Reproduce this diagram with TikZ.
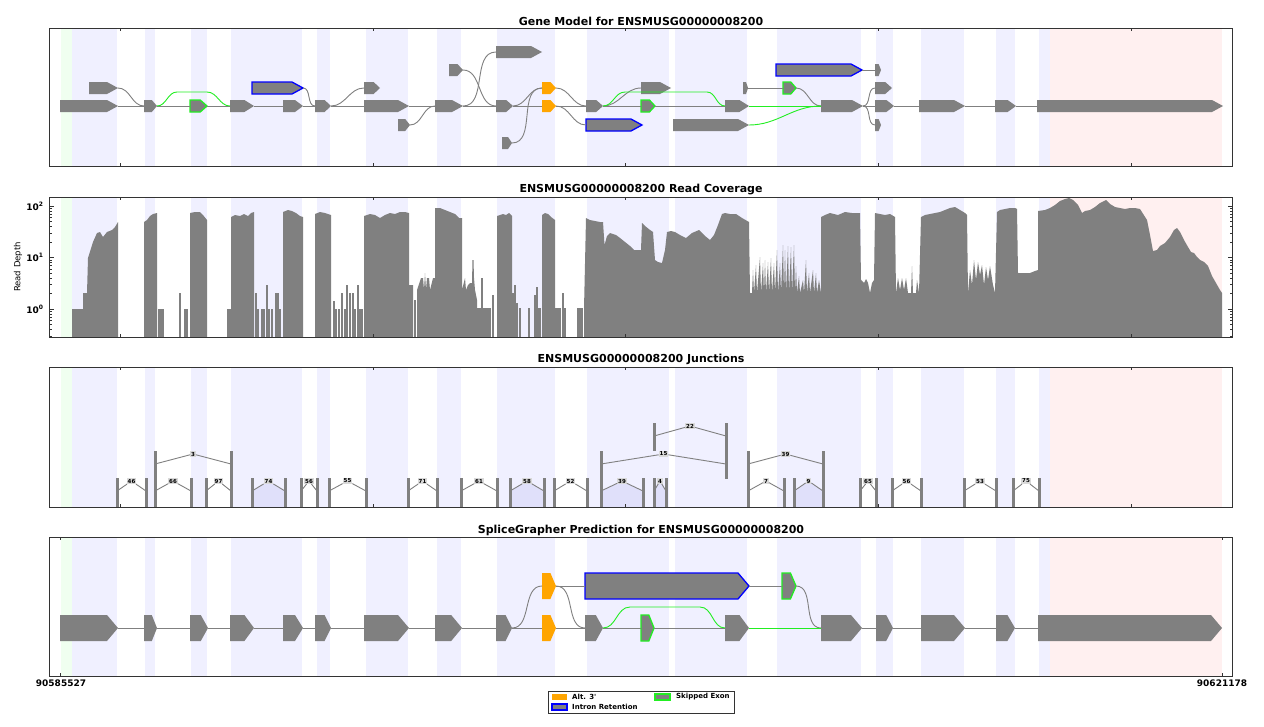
\documentclass[tikz,border=0pt]{standalone}
\usepackage{fontspec}
\setmainfont{DejaVu Sans}
\usetikzlibrary{calc}

\definecolor{exongray}{HTML}{808080}
\definecolor{bandblue}{HTML}{F0F0FF}
\definecolor{bandgreen}{HTML}{F0FFF0}
\definecolor{bandpink}{HTML}{FFF0F0}
\definecolor{juncfill}{HTML}{E0E0FA}
\definecolor{labgray}{HTML}{D9D9D9}
\definecolor{skipgreen}{HTML}{22EE22}
\definecolor{altorange}{HTML}{FFA500}

% exon: [style] name x1 x2 y, half height in \exh
\newcommand{\exh}{6}
\newcommand{\exon}[5][]{%
  \pgfmathsetmacro{\exw}{#4-#3}%
  \pgfmathsetmacro{\ext}{min(11,0.4*\exw)}%
  \path[exon,#1] (#3,#5-\exh) -- (#4-\ext,#5-\exh) -- (#4,#5)
    -- (#4-\ext,#5+\exh) -- (#3,#5+\exh) -- cycle;
  \coordinate (#2-w) at (#3,#5);
  \coordinate (#2-e) at (#4,#5);
}
% junction: name x1 x2 bartop leftbottom rightbottom label
\newcommand{\junc}[7]{%
  \draw[jbar] (#2,#4) -- (#2,#5);
  \draw[jbar] (#3,#4) -- (#3,#6);
  \node[jlab] (#1) at ({(#2+#3)/2},#4+3) {#7};
  \draw[jline] (#2,#4+13) -- (#1) -- (#3,#4+13);
}
\newcommand{\jfill}[3]{%
  \fill[juncfill] (#1,507) -- (#1,#3+13) -- ({(#1+#2)/2},#3+3) -- (#2,#3+13) -- (#2,507) -- cycle;
}

\begin{document}
\begin{tikzpicture}[x=1pt, y=-1pt,
  exon/.style={fill=exongray},
  seexon/.style={draw=skipgreen, line width=1.3pt},
  irexon/.style={draw=blue, line width=1.3pt},
  altexon/.style={fill=altorange},
  intron/.style={draw=exongray, line width=0.9pt},
  skipline/.style={draw=skipgreen, line width=0.9pt},
  panelframe/.style={draw=black!80, line width=1pt},
  axtick/.style={draw=black!80, line width=0.8pt},
  cov/.style={fill=exongray},
  jbar/.style={draw=exongray, line width=3pt},
  jline/.style={draw=exongray, line width=0.9pt},
  jlab/.style={fill=labgray, inner sep=0.8pt, font=\fontsize{5.5}{6}\selectfont\bfseries},
  ptitle/.style={font=\fontsize{11}{13}\selectfont\bfseries},
  axlab/.style={font=\fontsize{9}{10}\selectfont\bfseries},
  legtext/.style={font=\fontsize{7}{8}\selectfont\bfseries, anchor=west, inner sep=0pt}]
\fill[white] (0,0) rectangle (1264,726);
\useasboundingbox (0,0) rectangle (1264,726);

% shaded exon bands in every panel
\foreach \ya/\yb in {28/166, 197/337, 367/507, 537/676} {
  \fill[bandgreen] (61,\ya) rectangle (72,\yb);
  \foreach \xa/\xb in {72/117, 145/155, 191/207, 231/302, 317/330, 366/408, 437/461,
      497/555, 587/669, 675/747, 777/861, 876/893, 921/964, 996/1015, 1039/1050}
    \fill[bandblue] (\xa,\ya) rectangle (\xb,\yb);
  \fill[bandpink] (1050,\ya) rectangle (1222,\yb);
}

% titles
\node[ptitle] (t1) at (641,21) {Gene Model for ENSMUSG00000008200};
\node[ptitle] (t2) at (641,190) {ENSMUSG00000008200 Read Coverage};
\node[ptitle] (t3) at (641,359) {ENSMUSG00000008200 Junctions};
\node[ptitle] (t4) at (641,530) {SpliceGrapher Prediction for ENSMUSG00000008200};

% ---- gene model
\coordinate (s1a) at (177,92);
\coordinate (s1b) at (207,92);
\coordinate (s2a) at (625,92);
\coordinate (s2b) at (707,92);
\exon{g1}{60}{118}{106}
\exon{g2}{144}{157}{106}
\exon[seexon]{g3}{190}{207}{106}
\exon{g4}{230}{254}{106}
\exon{g5}{283}{303}{106}
\exon{g6}{315}{331}{106}
\exon{g7}{364}{409}{106}
\exon{g8}{435}{463}{106}
\exon{g9}{496}{513}{106}
\exon[altexon]{g10}{542}{556}{106}
\exon{g11}{586}{603}{106}
\exon[seexon]{g12}{641}{655}{106}
\exon{g13}{725}{749}{106}
\exon{g14}{821}{863}{106}
\exon{g15}{875}{894}{106}
\exon{g16}{919}{965}{106}
\exon{g17}{995}{1016}{106}
\exon{g18}{1037}{1223}{106}
\exon{a1}{89}{118}{88}
\exon[irexon]{a2}{252}{303}{88}
\exon{a3}{364}{380}{88}
\exon[altexon]{a4}{542}{556}{88}
\exon{a5}{641}{671}{88}
\exon{a6}{743}{748}{88}
\exon[seexon]{a7}{783}{796}{88}
\exon{a8}{875}{892}{88}
\exon{c1}{449}{463}{70}
\exon[irexon]{c2}{776}{862}{70}
\exon{c3}{875}{881}{70}
\exon{d1}{496}{542}{52}
\exon{b1}{398}{410}{125}
\exon[irexon]{b2}{586}{642}{125}
\exon{b3}{673}{749}{125}
\exon{b4}{875}{881}{125}
\exon{f1}{502}{512}{143}

\draw[intron] (g1-e) -- (g2-w) (g2-e) -- (g3-w) (g3-e) -- (g4-w) (g4-e) -- (g5-w)
  (g5-e) -- (g6-w) (g6-e) -- (g7-w) (g7-e) -- (g8-w) (g8-e) -- (g9-w)
  (g9-e) -- (g10-w) (g10-e) -- (g11-w) (g11-e) -- (g12-w) (g12-e) -- (g13-w)
  (g14-e) -- (g15-w) (g15-e) -- (g16-w) (g16-e) -- (g17-w) (g17-e) -- (g18-w);
\draw[intron] (a1-e) to[out=0,in=180] (g2-w);
\draw[intron] (a2-e) to[out=0,in=180] (g6-w);
\draw[intron] (g6-e) to[out=0,in=180] (a3-w);
\draw[intron] (b1-e) to[out=0,in=180] (g8-w);
\draw[intron] (g8-e) to[out=0,in=180] (d1-w);
\draw[intron] (c1-e) to[out=0,in=180] (g9-w);
\draw[intron] (g9-e) to[out=0,in=180] (a4-w);
\draw[intron] (f1-e) to[out=0,in=180] (a4-w);
\draw[intron] (a4-e) to[out=0,in=180] (g11-w);
\draw[intron] (g10-e) to[out=0,in=180] (b2-w);
\draw[intron] (g11-e) to[out=0,in=180] (a5-w);
\draw[intron] (a6-e) -- (a7-w);
\draw[intron] (a7-e) to[out=0,in=180] (g14-w);
\draw[intron] (c2-e) -- (c3-w);
\draw[intron] (g14-e) to[out=0,in=180] (a8-w);
\draw[intron] (g14-e) to[out=0,in=180] (b4-w);
\draw[skipline] (g2-e) to[out=0,in=180] (s1a) -- (s1b) to[out=0,in=180] (g4-w);
\draw[skipline] (g11-e) to[out=0,in=180] (s2a) -- (s2b) to[out=0,in=180] (g13-w);
\draw[skipline] (g13-e) -- (g14-w);
\draw[skipline] (b3-e) to[out=0,in=180] (g14-w);

% ---- read coverage
\fill[cov] (72,337) -- (72,309) -- (83,309) -- (83,293) -- (87,293) -- (88,258) -- (93,242)
  -- (97,233) -- (100,232) -- (103,237) -- (107,232) -- (112,230) -- (115,227) -- (118,222)
  -- (118,337) -- cycle;
\fill[cov] (144,337) -- (144,222) -- (147,220) -- (150,216) -- (153,214) -- (157,213) -- (157,337) -- cycle;
\fill[cov] (190,337) -- (190,213) -- (195,212) -- (200,212) -- (203,215) -- (207,220) -- (207,337) -- cycle;
\fill[cov] (227,337) -- (227,309) -- (231,309) -- (231,217) -- (235,215) -- (240,216) -- (244,214)
  -- (248,216) -- (251,213) -- (254,212) -- (254,337) -- cycle;
\fill[cov] (283,337) -- (283,212) -- (288,210) -- (292,211) -- (296,213) -- (300,216) -- (303,217) -- (303,337) -- cycle;
\fill[cov] (315,337) -- (315,214) -- (320,212) -- (325,213) -- (331,215) -- (331,337) -- cycle;
\fill[cov] (364,337) -- (364,216) -- (370,214) -- (375,215) -- (380,218) -- (385,215) -- (390,213)
  -- (395,214) -- (400,212) -- (405,212) -- (409,213) -- (409,285) -- (413,285) -- (413,337) -- cycle;
\fill[cov] (417,337) -- (417,290) -- (421,278) -- (423,278) -- (424,290) -- (425,273) -- (426,290)
  -- (427,278) -- (429,278) -- (430,290) -- (433,278) -- (435,278) -- (435,208) -- (440,208)
  -- (445,210) -- (450,212) -- (455,214) -- (459,218) -- (462,218) -- (462,290) -- (465,278)
  -- (466,290) -- (468,285) -- (470,283) -- (472,283) -- (472.5,260) -- (473.5,260) -- (474,278)
  -- (475,290) -- (477,300) -- (477,337) -- cycle;
\fill[cov] (497,337) -- (497,216) -- (500,215) -- (503,214) -- (506,215) -- (509,213) -- (512,216) -- (512,337) -- cycle;
\fill[cov] (542,337) -- (542,215) -- (545,213) -- (548,214) -- (551,217) -- (555,220) -- (555,337) -- cycle;
\fill[cov] (584,337) -- (584,309) -- (586,218) -- (590,220) -- (595,221) -- (600,222) -- (603,222)
  -- (604.5,245) -- (607,236) -- (610,233) -- (613,234) -- (616,235) -- (620,238) -- (625,242)
  -- (630,246) -- (634,250) -- (641,250) -- (642,223) -- (645,226) -- (650,230) -- (653,232)
  -- (655,260) -- (658,262) -- (662,263) -- (665,250) -- (667,232) -- (671,231) -- (675,232)
  -- (680,235) -- (686,238) -- (692,233) -- (699,230) -- (705,236) -- (710,240) -- (714,235)
  -- (718,225) -- (722,214) -- (725,213) -- (730,214) -- (736,214) -- (742,218) -- (749,222)
  -- (750,293) -- (752,293) -- (753,270) -- (754,293) -- (756,265) -- (757,293) -- (760,257)
  -- (761,293) -- (763,263) -- (764,293) -- (765,260) -- (766,293) -- (768,262) -- (769,293)
  -- (771,258) -- (772,293) -- (774,263) -- (775,293) -- (777,250) -- (778,293) -- (780,263)
  -- (781,293) -- (783,245) -- (784,293) -- (785,250) -- (786,293) -- (788,246) -- (789,293)
  -- (791,247) -- (792,293) -- (794,245) -- (795,293) -- (796,266) -- (797,293) -- (799,276)
  -- (800,293) -- (803,280) -- (804,293) -- (806,260) -- (807,293) -- (809,273) -- (810,293)
  -- (813,270) -- (814,293) -- (816,273) -- (817,293) -- (819,280) -- (821,293)
  -- (821,217) -- (825,215) -- (830,213) -- (838,215) -- (845,212) -- (852,213) -- (860,213)
  -- (861,280) -- (864,283) -- (866,279) -- (868,283) -- (870,293) -- (872,283) -- (874,280)
  -- (875,213) -- (880,214) -- (885,215) -- (890,214) -- (895,217) -- (896,293) -- (898,278)
  -- (900,290) -- (902,278) -- (904,290) -- (906,278) -- (908,293) -- (911,293) -- (912,266)
  -- (913,293) -- (916,293) -- (917,280) -- (919,293) -- (921,217) -- (925,215) -- (930,214)
  -- (935,213) -- (940,212) -- (945,210) -- (950,208) -- (955,207) -- (960,210) -- (965,213)
  -- (967,215) -- (968,293) -- (970,270) -- (972,285) -- (974,260) -- (976,280) -- (978,262)
  -- (980,275) -- (982,265) -- (984,285) -- (986,267) -- (988,280) -- (990,266) -- (993,285)
  -- (995,293) -- (997,212) -- (1000,210) -- (1005,209) -- (1010,208) -- (1015,208) -- (1017,209)
  -- (1018,273) -- (1025,273) -- (1030,273) -- (1035,271) -- (1038,270) -- (1038,211)
  -- (1045,210) -- (1050,208) -- (1055,205) -- (1060,201) -- (1065,199) -- (1069,198)
  -- (1073,200) -- (1078,205) -- (1082,213) -- (1085,211) -- (1090,210) -- (1095,207)
  -- (1100,203) -- (1106,200) -- (1110,204) -- (1115,207) -- (1120,208) -- (1125,209)
  -- (1130,208) -- (1135,208) -- (1140,209) -- (1147,220) -- (1150,235) -- (1153,251)
  -- (1157,250) -- (1160,246) -- (1165,243) -- (1170,237) -- (1174,230) -- (1177,228)
  -- (1180,232) -- (1184,240) -- (1188,247) -- (1191,252) -- (1194,253) -- (1197,257)
  -- (1200,260) -- (1204,262) -- (1208,266) -- (1212,276) -- (1216,283) -- (1220,290)
  -- (1222,293) -- (1222,337) -- cycle;
\foreach \x/\y in {159/309, 161/309, 163/309, 180/293, 185/309, 187/309, 256/293, 258/309,
    262/309, 264/309, 267/285, 269/309, 272/309, 276/293, 278/293, 280/309, 334/301, 336/309,
    339/309, 342/293, 345/309, 347/285, 350/293, 353/293, 355/309, 358/285, 360/309, 362/309,
    415/300, 478/308, 480/308, 482/278, 484/308, 486/308, 488/308, 490/308, 493/295, 513/293,
    515/285, 517/303, 520/308, 529/308, 535/295, 537/287, 538/308, 540/308, 556/308, 558/308,
    560/308, 563/293, 565/308, 578/308, 580/308, 582/308}
  \fill[cov] (\x-0.7,337) rectangle (\x+0.7,\y);

% log axis
\foreach \y in {206,257.5,309} {
  \draw[axtick] (49.5,\y) -- (54,\y);
  \draw[axtick] (1232.5,\y) -- (1228,\y);
}
\foreach \k in {-1,0,1} \foreach \m in {2,...,9} {
  \pgfmathsetmacro{\ty}{309-51.5*(\k+log10(\m))}
  \ifdim\ty pt<336pt
    \draw[axtick, line width=0.5pt] (49.5,\ty) -- (52,\ty);
    \draw[axtick, line width=0.5pt] (1232.5,\ty) -- (1230,\ty);
  \fi
}
\node[axlab, anchor=east] (ya) at (47,206) {10\textsuperscript{2}};
\node[axlab, anchor=east] (yb) at (47,257.5) {10\textsuperscript{1}};
\node[axlab, anchor=east] (yc) at (47,309) {10\textsuperscript{0}};
\node[rotate=90, font=\fontsize{8.5}{10}\selectfont] (ylab) at (18,267) {Read Depth};

% ---- junctions
\jfill{252}{285}{478}
\jfill{510}{544}{478}
\jfill{601}{643}{478}
\jfill{654}{666}{478}
\jfill{794}{823}{478}
\junc{j3}{155}{231}{451}{507}{507}{3}
\junc{j22}{654}{726}{423}{451}{479}{22}
\junc{j15}{601}{726}{451}{507}{479}{15}
\junc{j39u}{748}{823}{451}{507}{507}{39}
\junc{j46}{117}{146}{478}{507}{507}{46}
\junc{j66}{155}{191}{478}{507}{507}{66}
\junc{j97}{206}{231}{478}{507}{507}{97}
\junc{j74}{252}{285}{478}{507}{507}{74}
\junc{j56}{301}{317}{478}{507}{507}{56}
\junc{j55}{329}{366}{478}{507}{507}{55}
\junc{j71}{408}{437}{478}{507}{507}{71}
\junc{j61}{461}{497}{478}{507}{507}{61}
\junc{j58}{510}{544}{478}{507}{507}{58}
\junc{j52}{554}{587}{478}{507}{507}{52}
\junc{j39}{601}{643}{478}{507}{507}{39}
\junc{j4}{654}{666}{478}{507}{507}{4}
\junc{j7}{748}{784}{478}{507}{507}{7}
\junc{j9}{794}{823}{478}{507}{507}{9}
\junc{j65}{860}{876}{478}{507}{507}{65}
\junc{j56b}{892}{921}{478}{507}{507}{56}
\junc{j53}{964}{996}{478}{507}{507}{53}
\junc{j75}{1013}{1039}{478}{507}{507}{75}

% ---- prediction
\renewcommand{\exh}{13}
\coordinate (s3a) at (630,607);
\coordinate (s3b) at (700,607);
\exon{p1}{60}{118}{628}
\exon{p2}{144}{157}{628}
\exon{p3}{190}{208}{628}
\exon{p4}{230}{254}{628}
\exon{p5}{283}{303}{628}
\exon{p6}{315}{331}{628}
\exon{p7}{364}{409}{628}
\exon{p8}{435}{462}{628}
\exon{p9}{496}{512}{628}
\exon[altexon]{p10}{542}{556}{628}
\exon{p11}{585}{603}{628}
\exon[seexon]{p12}{641}{654}{628}
\exon{p13}{725}{749}{628}
\exon{p14}{821}{862}{628}
\exon{p15}{876}{893}{628}
\exon{p16}{921}{965}{628}
\exon{p17}{996}{1015}{628}
\exon{p18}{1038}{1222}{628}
\exon[altexon]{q1}{542}{556}{586}
\exon[irexon]{q2}{585}{749}{586}
\exon[seexon]{q3}{782}{796}{586}

\draw[intron] (p1-e) -- (p2-w) (p2-e) -- (p3-w) (p3-e) -- (p4-w) (p4-e) -- (p5-w)
  (p5-e) -- (p6-w) (p6-e) -- (p7-w) (p7-e) -- (p8-w) (p8-e) -- (p9-w)
  (p9-e) -- (p10-w) (p10-e) -- (p11-w) (p11-e) -- (p12-w) (p12-e) -- (p13-w)
  (p14-e) -- (p15-w) (p15-e) -- (p16-w) (p16-e) -- (p17-w) (p17-e) -- (p18-w)
  (q1-e) -- (q2-w) (q2-e) -- (q3-w);
\draw[intron] (p9-e) to[out=0,in=180] (q1-w);
\draw[intron] (q1-e) to[out=0,in=180] (p11-w);
\draw[intron] (q3-e) to[out=0,in=180] (p14-w);
\draw[skipline] (p11-e) to[out=0,in=180] (s3a) -- (s3b) to[out=0,in=180] (p13-w);
\draw[skipline] (p13-e) -- (p14-w);

% frames and ticks
\foreach \ya/\yb in {28/166, 197/337, 367/507, 537/676}
  \draw[panelframe] (49.5,\ya) rectangle (1232.5,\yb);
\foreach \ya/\yb in {28/166, 197/337, 367/507}
  \foreach \x in {120,373,625,878,1131} {
    \draw[axtick] (\x,\ya) -- (\x,\ya+3);
    \draw[axtick] (\x,\yb) -- (\x,\yb-3);
  }
\foreach \x in {60,1222} {
  \draw[axtick] (\x,537) -- (\x,540);
  \draw[axtick] (\x,676) -- (\x,673);
}
\node[axlab] (xmin) at (61,683) {90585527};
\node[axlab] (xmax) at (1222,683) {90621178};

% legend
\draw[fill=white, draw=black!80, line width=0.8pt] (548,691) rectangle (734,713);
\fill[altorange] (552,694) rectangle (567,700);
\node[legtext] (l1) at (572,697) {Alt. 3\textquotesingle};
\filldraw[fill=exongray, draw=skipgreen, line width=1.2pt] (655,694) rectangle (670,700);
\node[legtext] (l2) at (676,697) {Skipped Exon};
\filldraw[fill=exongray, draw=blue, line width=1.2pt] (552,704) rectangle (567,710);
\node[legtext] (l3) at (572,707) {Intron Retention};
\end{tikzpicture}
\end{document}
